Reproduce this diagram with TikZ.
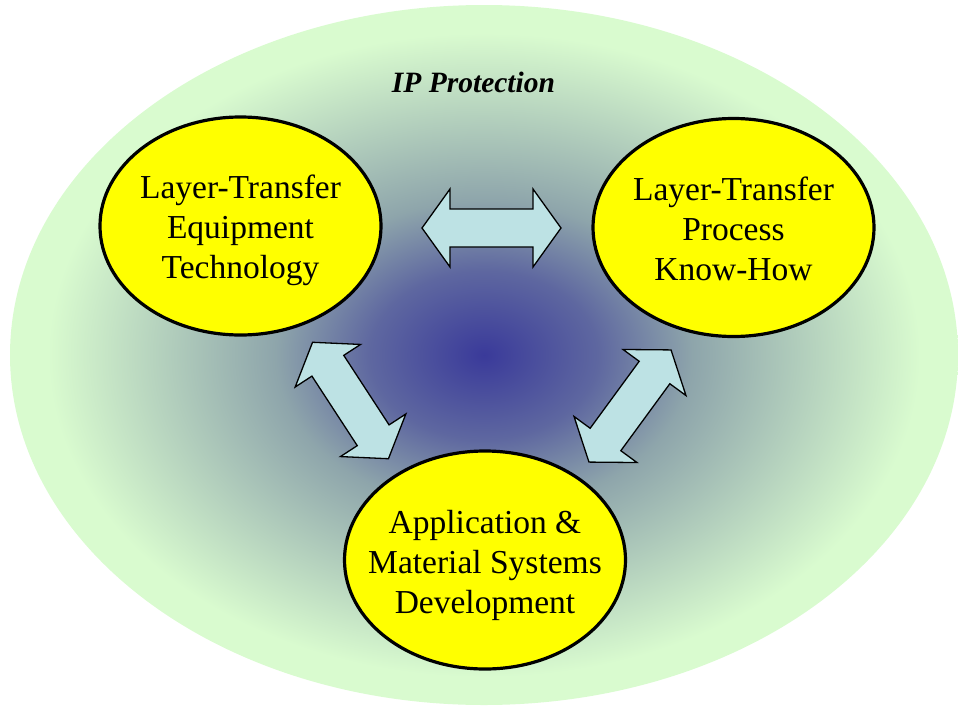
\documentclass[tikz,border=0pt]{standalone}
\usepackage{fontspec}
\setmainfont{Liberation Serif}
\usepackage{tikz}
\usetikzlibrary{
  positioning,
  shapes.geometric
}
\definecolor{ipgreen}{HTML}{D9FBCF}
\definecolor{ipmid}{HTML}{8EA5AB}
\definecolor{ipinner}{HTML}{5E67A0}
\definecolor{ipblue}{HTML}{3A3A9A}
\definecolor{bubbleyellow}{HTML}{FFFF00}
\definecolor{arrowcyan}{HTML}{BDE2E4}
\pgfdeclareradialshading{ipglow}{\pgfpoint{0bp}{0bp}}{%
  color(0bp)=(ipblue); color(6bp)=(ipinner); color(11bp)=(ipmid);
  color(23bp)=(ipgreen); color(50bp)=(ipgreen)}

\begin{document}
\begin{tikzpicture}[
    x=1pt, y=-1pt,
    % Styles
    ipzone/.style={
        ellipse, shade, shading=ipglow,
        minimum width=948pt, minimum height=700pt,
        inner sep=0pt
    },
    bubble/.style={
        ellipse, draw=black, line width=3.2pt,
        fill=bubbleyellow,
        minimum width=281pt, minimum height=218pt,
        inner sep=0pt
    },
    bubtext/.style={
        font=\fontsize{33.5}{40}\selectfont,
        align=center, inner sep=0pt
    },
    iptitle/.style={
        font=\fontsize{29.5}{34}\selectfont\bfseries\itshape,
        anchor=base, inner sep=0pt
    },
    arrowbody/.style={draw=black, line width=1.3pt, fill=arrowcyan, line join=miter},
    dblarrow/.pic={
        \draw[arrowbody] (-69.5,0) -- (-41.5,-39) -- (-41.5,-19) -- (41.5,-19)
            -- (41.5,-39) -- (69.5,0) -- (41.5,39) -- (41.5,19)
            -- (-41.5,19) -- (-41.5,39) -- cycle;
    }
]
\useasboundingbox (0,0) rectangle (958,707);

% ── IP PROTECTION ZONE ──
\node[ipzone] (ipzone) at (484,355) {};
\node[iptitle] (iplabel) at (473.5,92) {IP Protection};

% ── THE THREE BUBBLES ──
\node[bubble] (equip) at (240.5,226) {};
\node[bubtext] (equiptext) at ([yshift=-4pt]equip.center) {Layer-Transfer\\Equipment\\Technology};

\node[bubble] (process) at (733.5,227.5) {};
\node[bubtext] (processtext) at ([yshift=-1pt]process.center) {Layer-Transfer\\Process\\Know-How};

\node[bubble] (appl) at (485,560) {};
\node[bubtext] (appltext) at ([yshift=-5pt]appl.center) {Application \&\\Material Systems\\Development};

% ── LINKS ──
\pic (equipprocess) at (491.5,228) {dblarrow};
\pic[rotate=-56.9] (equipappl) at (350.5,400.5) {dblarrow};
\pic[rotate=53.8] (processappl) at (630,406) {dblarrow};

\end{tikzpicture}
\end{document}
